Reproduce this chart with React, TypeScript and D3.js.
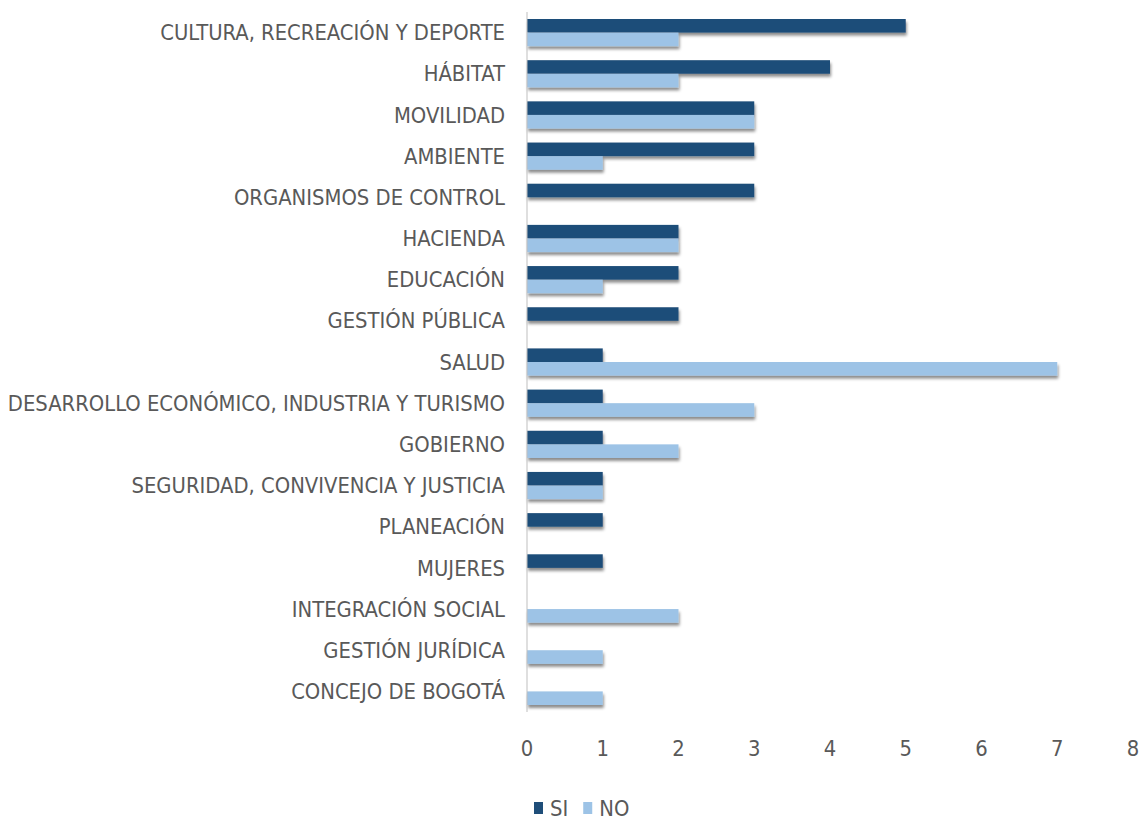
import React, { useEffect, useRef } from "react";
import * as d3 from "d3";

const CATEGORIES = [
	"CULTURA, RECREACIÓN Y DEPORTE",
	"HÁBITAT",
	"MOVILIDAD",
	"AMBIENTE",
	"ORGANISMOS DE CONTROL",
	"HACIENDA",
	"EDUCACIÓN",
	"GESTIÓN PÚBLICA",
	"SALUD",
	"DESARROLLO ECONÓMICO, INDUSTRIA Y TURISMO",
	"GOBIERNO",
	"SEGURIDAD, CONVIVENCIA Y JUSTICIA",
	"PLANEACIÓN",
	"MUJERES",
	"INTEGRACIÓN SOCIAL",
	"GESTIÓN JURÍDICA",
	"CONCEJO DE BOGOTÁ"
];
const SI_VALUES = [5, 4, 3, 3, 3, 2, 2, 2, 1, 1, 1, 1, 1, 1, 0, 0, 0];
const NO_VALUES = [2, 2, 3, 1, 0, 2, 1, 0, 7, 3, 2, 1, 0, 0, 2, 1, 1];
const SERIES = ["SI", "NO"];
const X_TICKS = [0, 1, 2, 3, 4, 5, 6, 7, 8];

const COLORS: Record<string, string> = { SI: "#1F4E79", NO: "#9DC3E6" };
const FONT = "'Liberation Sans Narrow', 'DejaVu Sans Condensed', 'Roboto', sans-serif";
const TEXT_COLOR = "#595959";

const W = 1141;
const H = 820;
const LEFT = 527;
const RIGHT = 1133;
const TOP = 12;
const BOTTOM = 712;

export default function App() {
	const ref = useRef<SVGSVGElement>(null);

	useEffect(() => {
		const svg = d3.select(ref.current);
		svg.selectAll("*").remove();

		const rows = CATEGORIES.map((c, i) => ({ cat: c, SI: SI_VALUES[i], NO: NO_VALUES[i] }));

		const x = d3.scaleLinear().domain([0, 8]).range([LEFT, RIGHT]);
		const y = d3.scaleBand().domain(CATEGORIES).range([TOP, BOTTOM]).paddingInner(0.34).paddingOuter(0.17);
		const ySub = d3.scaleBand().domain(SERIES).range([0, y.bandwidth()]);

		const defs = svg.append("defs");
		const filter = defs
			.append("filter")
			.attr("id", "shadow")
			.attr("x", "-5%")
			.attr("y", "-50%")
			.attr("width", "110%")
			.attr("height", "250%");
		filter
			.append("feDropShadow")
			.attr("dx", 1)
			.attr("dy", 3)
			.attr("stdDeviation", 1.4)
			.attr("flood-color", "#000")
			.attr("flood-opacity", 0.45);

		// bars
		const groups = svg
			.append("g")
			.selectAll("g")
			.data(rows)
			.enter()
			.append("g")
			.attr("transform", (d) => `translate(0, ${y(d.cat)})`);

		groups
			.selectAll("rect")
			.data((d) => SERIES.map((s) => ({ s, v: (d as any)[s] as number })).filter((e) => e.v > 0))
			.enter()
			.append("rect")
			.attr("x", x(0))
			.attr("y", (d) => ySub(d.s) as number)
			.attr("width", (d) => x(d.v) - x(0))
			.attr("height", ySub.bandwidth())
			.attr("fill", (d) => COLORS[d.s])
			.attr("filter", "url(#shadow)");

		// vertical axis line
		svg
			.append("line")
			.attr("x1", LEFT)
			.attr("x2", LEFT)
			.attr("y1", TOP)
			.attr("y2", BOTTOM)
			.attr("stroke", "#bfbfbf")
			.attr("stroke-width", 1);

		// category labels
		svg
			.append("g")
			.selectAll("text")
			.data(CATEGORIES)
			.enter()
			.append("text")
			.attr("x", LEFT - 22)
			.attr("y", (d) => (y(d) as number) + y.bandwidth() / 2)
			.attr("dy", "0.35em")
			.attr("text-anchor", "end")
			.attr("font-family", FONT)
			.attr("font-size", 21.8)
			.attr("fill", TEXT_COLOR)
			.text((d) => d);

		// x tick labels
		svg
			.append("g")
			.selectAll("text")
			.data(X_TICKS)
			.enter()
			.append("text")
			.attr("x", (d) => x(d))
			.attr("y", 748)
			.attr("dy", "0.35em")
			.attr("text-anchor", "middle")
			.attr("font-family", FONT)
			.attr("font-size", 21.8)
			.attr("fill", TEXT_COLOR)
			.text((d) => d);

		// legend
		const legend = svg.append("g").attr("transform", "translate(534, 808)");
		let lx = 0;
		SERIES.forEach((s) => {
			legend
				.append("rect")
				.attr("x", lx)
				.attr("y", -6)
				.attr("width", 9)
				.attr("height", 12)
				.attr("fill", COLORS[s]);
			const t = legend
				.append("text")
				.attr("x", lx + 16)
				.attr("y", 0)
				.attr("dy", "0.35em")
				.attr("font-family", FONT)
				.attr("font-size", 21.8)
				.attr("fill", TEXT_COLOR)
				.text(s);
			const tw = (t.node() as SVGTextElement).getComputedTextLength();
			lx += 16 + tw + 15;
		});
	}, []);

	return (
		<svg
			ref={ref}
			width={W}
			height={H}
			style={{ position: "absolute", left: 0, top: 0, background: "#fff" }}
		></svg>
	);
}
